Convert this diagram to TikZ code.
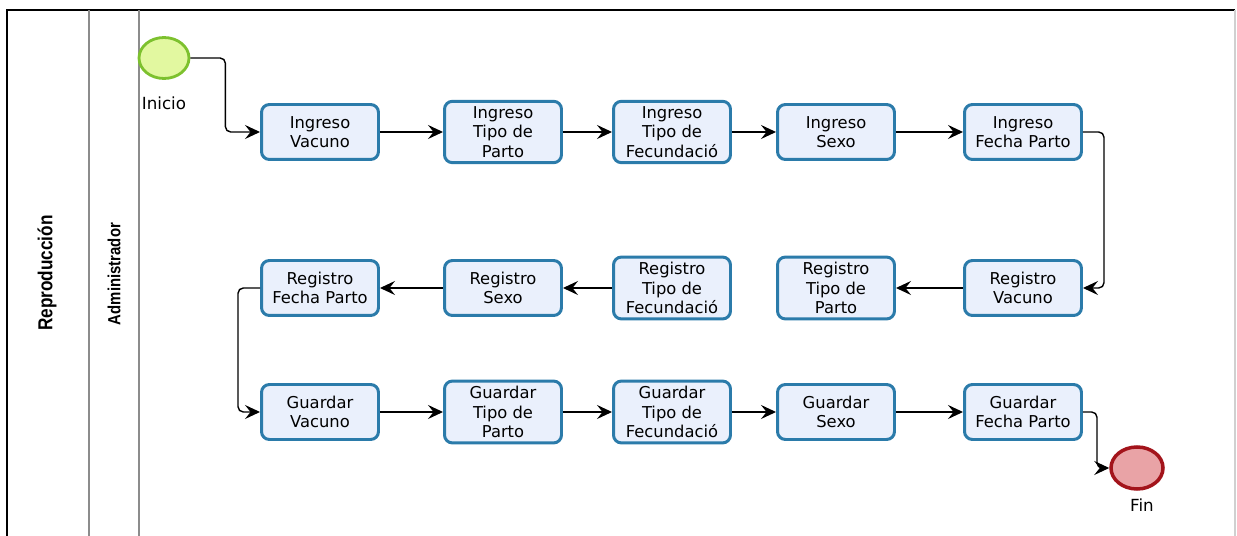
\documentclass[tikz,border=0pt]{standalone}
\usepackage{fontspec}
\setmainfont{DejaVu Sans}
\newfontfamily\lanefont{Liberation Sans}
\usetikzlibrary{arrows.meta,positioning,shapes.geometric}
\definecolor{taskfill}{HTML}{EAF0FC}
\definecolor{taskdraw}{HTML}{2B7BAA}
\definecolor{startfill}{HTML}{E2F8A0}
\definecolor{startdraw}{HTML}{7DC12E}
\definecolor{endfill}{HTML}{E9A3A6}
\definecolor{enddraw}{HTML}{A3141B}
\definecolor{lanegray}{HTML}{8C8C8C}
\definecolor{edgegray}{HTML}{D0D0D0}
\tikzset{
  >={Stealth[length=3mm,width=2.8mm,inset=1.1mm]},
  flow/.style={->,thick,draw=black,rounded corners=3pt},
  task/.style={draw=taskdraw,fill=taskfill,line width=1.7pt,rounded corners=4.5pt,
               minimum width=2.34cm,minimum height=1.1cm,align=center,
               inner xsep=2pt,inner ysep=3pt,
               font=\fontsize{9.3}{11}\selectfont},
  startevent/.style={ellipse,draw=startdraw,fill=startfill,line width=1.6pt,
                     minimum width=1cm,minimum height=0.82cm},
  endevent/.style={ellipse,draw=enddraw,fill=endfill,line width=2pt,
                   minimum width=1.04cm,minimum height=0.84cm},
  eventlabel/.style={font=\fontsize{9.5}{11}\selectfont},
  lane/.style={draw=lanegray,thick},
  lanetitle/.style={rotate=90,xscale=0.85,transform shape}
}
\begin{document}
\begin{tikzpicture}[x=0.02cm,y=-0.02cm]
  \useasboundingbox (0,0) rectangle (1237,536);
  % pool and lanes
  \draw[thick] (7,536) -- (7,10) -- (1235,10);
  \draw[draw=edgegray,thick] (1235,10) -- (1235,536);
  \draw[lane] (89,10) -- (89,536);
  \draw[lane] (139,10) -- (139,536);
  \node[lanetitle,font=\lanefont\bfseries\fontsize{11.5}{13}\selectfont] (pool) at (47,273) {Reproducción};
  \node[lanetitle,font=\lanefont\bfseries\fontsize{10}{12}\selectfont] (admin) at (114,274) {Administrador};
  % events
  \node[startevent] (inicio) at (164,58) {};
  \node[eventlabel] (inicioLbl) at (164,103) {Inicio};
  \node[endevent] (fin) at (1137,468) {};
  \node[eventlabel] (finLbl) at (1142,505) {Fin};
  % first row
  \node[task] (iv)  at (320,132) {Ingreso\\Vacuno};
  \node[task] (itp) at (503,132) {Ingreso\\Tipo de\\Parto};
  \node[task] (itf) at (672,132) {Ingreso\\Tipo de\\Fecundació};
  \node[task] (is)  at (836,132) {Ingreso\\Sexo};
  \node[task] (ifp) at (1023,132) {Ingreso\\Fecha Parto};
  % second row
  \node[task] (rfp) at (320,288) {Registro\\Fecha Parto};
  \node[task] (rs)  at (503,288) {Registro\\Sexo};
  \node[task] (rtf) at (672,288) {Registro\\Tipo de\\Fecundació};
  \node[task] (rtp) at (836,288) {Registro\\Tipo de\\Parto};
  \node[task] (rv)  at (1023,288) {Registro\\Vacuno};
  % third row
  \node[task] (gv)  at (320,412) {Guardar\\Vacuno};
  \node[task] (gtp) at (503,412) {Guardar\\Tipo de\\Parto};
  \node[task] (gtf) at (672,412) {Guardar\\Tipo de\\Fecundació};
  \node[task] (gs)  at (836,412) {Guardar\\Sexo};
  \node[task] (gfp) at (1023,412) {Guardar\\Fecha Parto};
  % sequence flows
  \draw[flow] (inicio.east) -- ++(35,0) |- (iv.west);
  \draw[flow] (iv) -- (itp); \draw[flow] (itp) -- (itf);
  \draw[flow] (itf) -- (is); \draw[flow] (is) -- (ifp);
  \draw[flow] (ifp.east) -- ++(21,0) |- (rv.east);
  \draw[flow] (rv) -- (rtp);
  \draw[flow] (rtf) -- (rs); \draw[flow] (rs) -- (rfp);
  \draw[flow] (rfp.west) -- ++(-22,0) |- (gv.west);
  \draw[flow] (gv) -- (gtp); \draw[flow] (gtp) -- (gtf);
  \draw[flow] (gtf) -- (gs); \draw[flow] (gs) -- (gfp);
  \draw[flow] (gfp.east) -- ++(14,0) |- (fin.west);
\end{tikzpicture}
\end{document}
